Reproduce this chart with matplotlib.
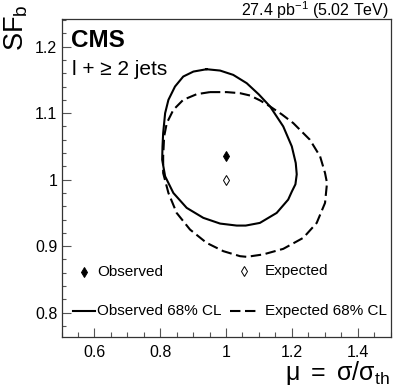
import matplotlib
matplotlib.use("Agg")
import matplotlib.pyplot as plt
from matplotlib.ticker import FixedLocator, FixedFormatter, MultipleLocator

plt.rcParams['font.family'] = ['Liberation Sans', 'DejaVu Sans']
plt.rcParams['mathtext.fontset'] = 'custom'
plt.rcParams['mathtext.rm'] = 'Liberation Sans'
plt.rcParams['mathtext.it'] = 'Liberation Sans:italic'
plt.rcParams['mathtext.bf'] = 'Liberation Sans:bold'

# ---- data ----
obs_best = (1.0, 1.035)
exp_best = (1.0, 1.0)

obs_mu = [0.941, 0.982, 1.022, 1.063, 1.100, 1.134, 1.174, 1.200, 1.212, 1.215,
          1.211, 1.200, 1.189, 1.154, 1.103, 1.060, 1.0325, 0.982, 0.931, 0.8805,
          0.840, 0.815, 0.806, 0.807, 0.809, 0.815, 0.825, 0.845, 0.870, 0.901]
obs_sf = [1.166, 1.164, 1.1575, 1.145, 1.128, 1.110, 1.080, 1.050, 1.025, 1.008,
          0.993, 0.982, 0.970, 0.950, 0.935, 0.931, 0.931, 0.934, 0.9426, 0.9576,
          0.980, 1.005, 1.030, 1.050, 1.070, 1.100, 1.120, 1.140, 1.155, 1.1625]

exp_mu = [0.951, 1.002, 1.0425, 1.073, 1.104, 1.134, 1.170, 1.2045, 1.255, 1.286,
          1.301, 1.307, 1.301, 1.2757, 1.235, 1.174, 1.113, 1.063, 1.0425, 0.992,
          0.941, 0.8906, 0.850, 0.825, 0.809, 0.809, 0.812, 0.820, 0.840, 0.870, 0.911]
exp_sf = [1.1316, 1.1316, 1.130, 1.1265, 1.119, 1.110, 1.098, 1.085, 1.060, 1.035,
          1.010, 0.995, 0.965, 0.935, 0.9126, 0.896, 0.8876, 0.884, 0.885, 0.8925,
          0.905, 0.925, 0.950, 0.980, 1.010, 1.035, 1.065, 1.085, 1.105, 1.120, 1.1285]

x_ticks = [0.6, 0.8, 1.0, 1.2, 1.4]
x_ticklabels = ['0.6', '0.8', '1', '1.2', '1.4']
y_ticks = [0.8, 0.9, 1.0, 1.1, 1.2]
y_ticklabels = ['0.8', '0.9', '1', '1.1', '1.2']

W, H = 407, 388
fig = plt.figure(figsize=(W / 100, H / 100), dpi=100)
ax = fig.add_axes([61.5 / W, 1 - 337 / H, (390.5 - 61.5) / W, (337 - 19) / H])

ax.plot(obs_mu + obs_mu[:1], obs_sf + obs_sf[:1], color='black', lw=1.5,
        solid_joinstyle='round')
ax.plot(exp_mu + exp_mu[:1], exp_sf + exp_sf[:1], color='black', lw=1.5,
        dashes=(5, 2.2))
ax.plot([obs_best[0]], [obs_best[1]], marker='d', color='black', ms=4.6,
        markeredgewidth=0.7)
ax.plot([exp_best[0]], [exp_best[1]], marker='d', markerfacecolor='white',
        markeredgecolor='black', ms=4.8, markeredgewidth=0.7)

ax.set_xlim(0.5, 1.5)
ax.set_ylim(0.7635, 1.2415)
ax.xaxis.set_major_locator(FixedLocator(x_ticks))
ax.xaxis.set_major_formatter(FixedFormatter(x_ticklabels))
ax.xaxis.set_minor_locator(MultipleLocator(0.05))
ax.yaxis.set_major_locator(FixedLocator(y_ticks))
ax.yaxis.set_major_formatter(FixedFormatter(y_ticklabels))
ax.yaxis.set_minor_locator(MultipleLocator(0.02))
ax.tick_params(which='both', direction='in', top=False, right=False,
               labelsize=11.5, width=0.8, color='#555555')
ax.tick_params(axis='x', which='major', length=6.5, pad=6)
ax.tick_params(axis='x', which='minor', length=3.6)
ax.tick_params(axis='y', which='major', length=6.5, pad=3)
ax.tick_params(axis='y', which='minor', length=3.2)
for s in ax.spines.values():
    s.set_linewidth(0.9)
    s.set_color('#333333')

def fx(px):
    return px / W

def fy(py):
    return 1 - py / H

# axis titles
fig.text(fx(2), fy(4), r'$\mathrm{SF_b}$', rotation=90, ha='left', va='top',
         fontsize=19.5)
fig.text(fx(390), fy(387), r'$\mathrm{\mu\ =\ \sigma/\sigma_{th}}$', ha='right',
         va='bottom', fontsize=18)
fig.text(fx(389), fy(16), r'27.4 pb$^{\mathrm{-1}}$ (5.02 TeV)', ha='right',
         va='baseline', fontsize=11.5)
fig.text(fx(71), fy(47), 'CMS', fontweight='bold', fontsize=17.5, va='baseline')
fig.text(fx(72), fy(75), 'l + ≥ 2 jets', fontsize=15, va='baseline')

# legend
leg_fs = 11
ax.plot([fx(83.5)], [fy(272)], transform=fig.transFigure, marker='d',
        color='black', ms=4.6, markeredgewidth=0.7, clip_on=False)
fig.text(fx(97), fy(272), 'Observed', fontsize=leg_fs, va='center')
ax.plot([fx(243.5)], [fy(271)], transform=fig.transFigure, marker='d',
        markerfacecolor='white', markeredgecolor='black', ms=4.8,
        markeredgewidth=0.7, clip_on=False)
fig.text(fx(265), fy(271), 'Expected', fontsize=leg_fs, va='center')
ax.plot([fx(73), fx(95)], [fy(311), fy(311)], transform=fig.transFigure,
        color='black', lw=1.5, clip_on=False)
fig.text(fx(97), fy(311), 'Observed 68% CL', fontsize=leg_fs, va='center')
ax.plot([fx(230), fx(258)], [fy(311), fy(311)], transform=fig.transFigure,
        color='black', lw=1.5, dashes=(5, 2.2), clip_on=False)
fig.text(fx(265), fy(311), 'Expected 68% CL', fontsize=leg_fs, va='center')

fig.savefig('out.png', dpi=100)
